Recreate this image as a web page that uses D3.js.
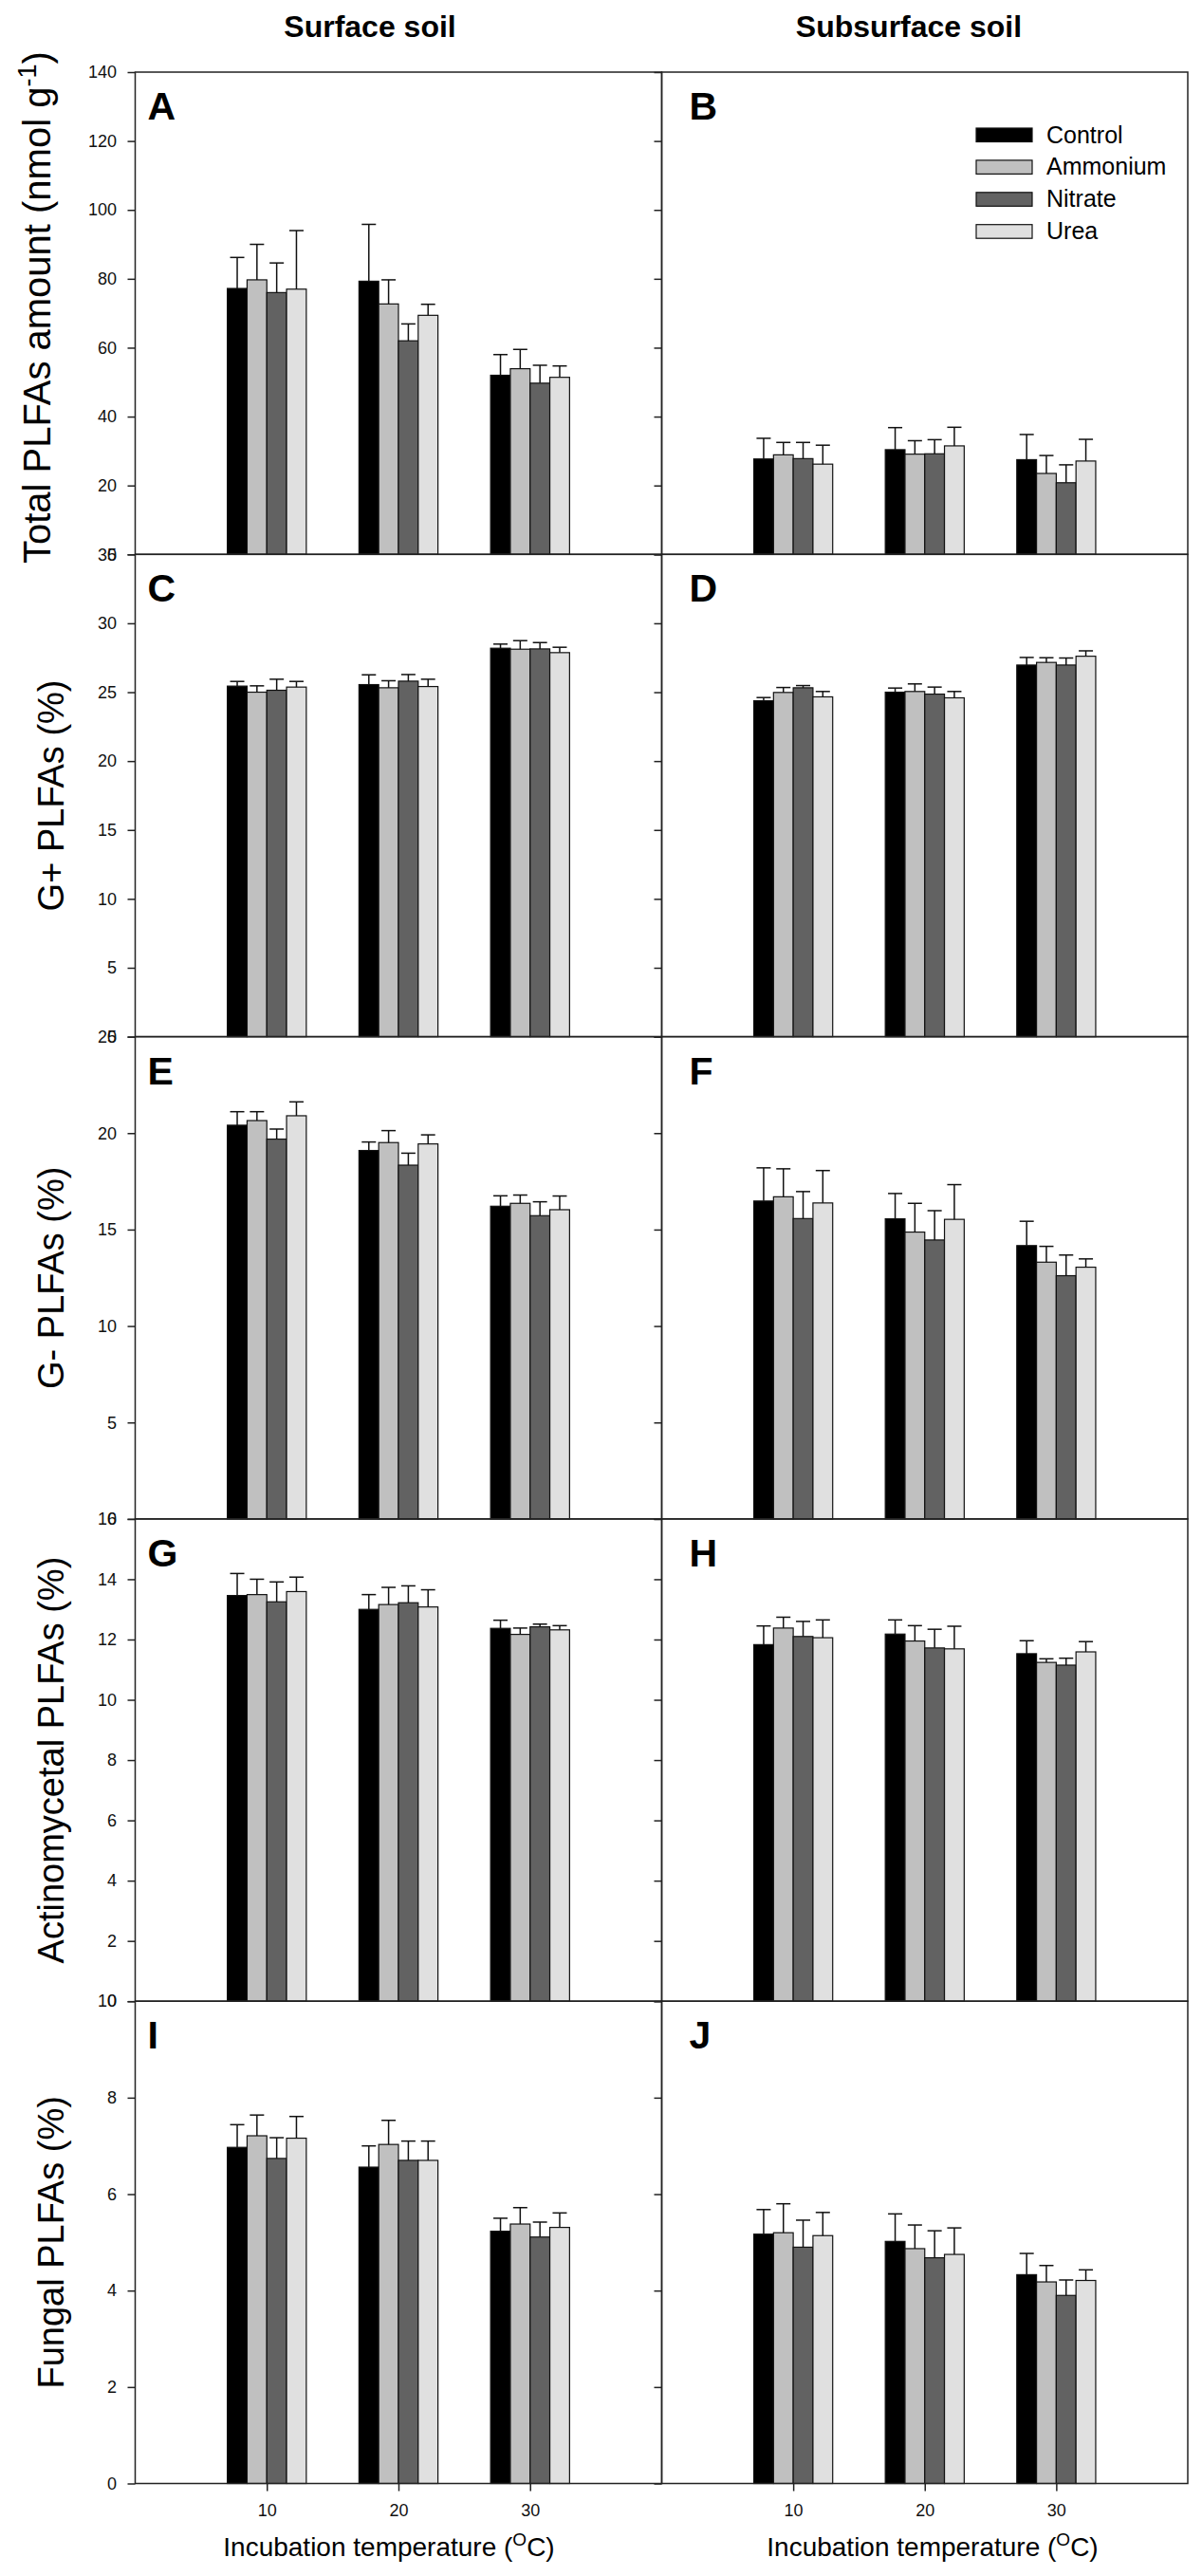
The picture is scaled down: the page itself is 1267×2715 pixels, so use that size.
<!DOCTYPE html>
<html>
<head>
<meta charset="utf-8">
<style>
	body { margin: 0; background: #fff; }
	svg { display: block; font-family: Arial, "Liberation Sans", sans-serif; }
	.frame { fill: none; stroke: #222; stroke-width: 1.5; }
	.bar { stroke: #111; stroke-width: 1.2; }
	.err { stroke: #111; stroke-width: 1.5; fill: none; }
	.axis path { display: none; }
	.axis line { stroke: #222; stroke-width: 1.5; }
	.axis text { font-size: 18px; fill: #111; font-family: Arial, "Liberation Sans", sans-serif; }
</style>
</head>
<body>
<script src="https://d3js.org/d3.v7.min.js"></script>
<script>
	// categories
	var temps = [10, 20, 30];
	var treatments = ["Control", "Ammonium", "Nitrate", "Urea"];
	var fills = ["#000000", "#c0c0c0", "#626262", "#e0e0e0"];

	// values: [temperature][treatment], errors are the upper bar length
	var totalSurf = [[77.2, 79.7, 76.0, 77.0], [79.3, 72.7, 62.0, 69.4], [52.0, 53.9, 49.7, 51.4]];
	var totalSurfErr = [[9.0, 10.3, 8.6, 17.0], [16.5, 7.0, 4.9, 3.2], [6.0, 5.6, 5.2, 3.3]];
	var totalSub = [[27.7, 28.9, 27.8, 26.2], [30.4, 29.1, 29.2, 31.5], [27.5, 23.5, 20.8, 27.1]];
	var totalSubErr = [[6.0, 3.6, 4.7, 5.5], [6.4, 3.9, 4.1, 5.4], [7.3, 5.2, 5.2, 6.3]];

	var gposSurf = [[25.44, 25.0, 25.14, 25.37], [25.55, 25.32, 25.80, 25.41], [28.19, 28.12, 28.14, 27.87]];
	var gposSurfErr = [[0.34, 0.46, 0.8, 0.41], [0.71, 0.51, 0.48, 0.53], [0.30, 0.62, 0.46, 0.39]];
	var gposSub = [[24.38, 24.98, 25.32, 24.66], [25.0, 25.05, 24.86, 24.59], [26.97, 27.16, 26.97, 27.61]];
	var gposSubErr = [[0.23, 0.36, 0.16, 0.39], [0.30, 0.55, 0.51, 0.46], [0.55, 0.34, 0.51, 0.39]];

	var gnegSurf = [[20.41, 20.65, 19.69, 20.90], [19.10, 19.51, 18.34, 19.44], [16.21, 16.36, 15.72, 16.03]];
	var gnegSurfErr = [[0.70, 0.46, 0.52, 0.72], [0.44, 0.62, 0.62, 0.47], [0.54, 0.43, 0.72, 0.71]];
	var gnegSub = [[16.48, 16.70, 15.57, 16.38], [15.56, 14.87, 14.46, 15.53], [14.17, 13.31, 12.61, 13.05]];
	var gnegSubErr = [[1.72, 1.45, 1.40, 1.68], [1.31, 1.49, 1.52, 1.80], [1.26, 0.82, 1.07, 0.43]];

	var actSurf = [[13.46, 13.49, 13.25, 13.59], [13.00, 13.16, 13.22, 13.08], [12.37, 12.17, 12.42, 12.32]];
	var actSurfErr = [[0.73, 0.51, 0.66, 0.48], [0.49, 0.57, 0.56, 0.57], [0.27, 0.21, 0.09, 0.14]];
	var actSub = [[11.83, 12.38, 12.10, 12.06], [12.18, 11.95, 11.72, 11.69], [11.53, 11.24, 11.15, 11.59]];
	var actSubErr = [[0.62, 0.36, 0.50, 0.59], [0.47, 0.51, 0.62, 0.75], [0.43, 0.12, 0.23, 0.34]];

	var fungSurf = [[6.97, 7.21, 6.74, 7.16], [6.56, 7.03, 6.70, 6.70], [5.23, 5.38, 5.11, 5.31]];
	var fungSurfErr = [[0.47, 0.43, 0.43, 0.45], [0.44, 0.50, 0.40, 0.40], [0.27, 0.34, 0.31, 0.30]];
	var fungSub = [[5.17, 5.20, 4.90, 5.14], [5.02, 4.87, 4.68, 4.75], [4.33, 4.18, 3.90, 4.21]];
	var fungSubErr = [[0.51, 0.60, 0.56, 0.48], [0.57, 0.49, 0.56, 0.55], [0.44, 0.34, 0.32, 0.22]];

	// y axis ranges per row
	var yMax = [140, 35, 25, 16, 10];
	var yStep = [20, 5, 5, 2, 2];
	var letters = [["A", "B"], ["C", "D"], ["E", "F"], ["G", "H"], ["I", "J"]];

	var rows = [
		{ vals: [totalSurf, totalSub], errs: [totalSurfErr, totalSubErr] },
		{ vals: [gposSurf, gposSub], errs: [gposSurfErr, gposSubErr] },
		{ vals: [gnegSurf, gnegSub], errs: [gnegSurfErr, gnegSubErr] },
		{ vals: [actSurf, actSub], errs: [actSurfErr, actSubErr] },
		{ vals: [fungSurf, fungSub], errs: [fungSurfErr, fungSubErr] }
	];

	var W = 1267, H = 2715;
	var top0 = 76, rowH = 508.3;
	var colX = [142.5, 697.5, 1252];
	var barW = 1.5; // in x units

	var svg = d3.select("body").append("svg")
		.attr("width", W)
		.attr("height", H);
	svg.append("rect").attr("width", W).attr("height", H).attr("fill", "#fff");

	rows.forEach(function (row, r) {
		for (var c = 0; c < 2; c++) {
			var x = d3.scaleLinear().domain([0, 40]).range([colX[c], colX[c + 1]]);
			var y = d3.scaleLinear().domain([0, yMax[r]]).range([top0 + (r + 1) * rowH, top0 + r * rowH]);
			var g = svg.append("g");

			// flatten
			var flat = [];
			row.vals[c].forEach(function (grp, ti) {
				grp.forEach(function (v, k) {
					flat.push({ t: temps[ti], k: k, v: v, e: row.errs[c][ti][k] });
				});
			});

			g.selectAll("rect.bar").data(flat).enter()
				.append("rect")
				.attr("class", "bar")
				.attr("x", function (d) { return x(d.t - 3 + barW * d.k); })
				.attr("y", function (d) { return y(d.v); })
				.attr("width", function () { return x(barW) - x(0); })
				.attr("height", function (d) { return y(0) - y(d.v); })
				.attr("fill", function (d) { return fills[d.k]; });

			// error bars, upper half only
			var eb = g.selectAll("g.eb").data(flat).enter().append("g").attr("class", "eb");
			eb.append("line")
				.attr("class", "err")
				.attr("x1", function (d) { return x(d.t - 3 + barW * d.k + barW / 2); })
				.attr("x2", function (d) { return x(d.t - 3 + barW * d.k + barW / 2); })
				.attr("y1", function (d) { return y(d.v); })
				.attr("y2", function (d) { return y(d.v + d.e); });
			eb.append("line")
				.attr("class", "err")
				.attr("x1", function (d) { return x(d.t - 3 + barW * d.k + barW / 2) - 7.5; })
				.attr("x2", function (d) { return x(d.t - 3 + barW * d.k + barW / 2) + 7.5; })
				.attr("y1", function (d) { return y(d.v + d.e); })
				.attr("y2", function (d) { return y(d.v + d.e); });

			// y axis
			var ax = d3.axisLeft(y)
				.tickValues(d3.range(0, yMax[r] + yStep[r] / 2, yStep[r]))
				.tickSize(8)
				.tickPadding(11.5);
			if (c == 1) ax.tickFormat("");
			svg.append("g").attr("class", "axis")
				.attr("transform", "translate(" + colX[c] + ",0)")
				.call(ax);

			// bottom row x axis
			if (r == rows.length - 1) {
				svg.append("g").attr("class", "axis")
					.attr("transform", "translate(0," + y(0) + ")")
					.call(d3.axisBottom(x).tickValues(temps).tickSize(8).tickPadding(14));
			}

			// frame
			svg.append("rect").attr("class", "frame")
				.attr("x", colX[c]).attr("y", y(yMax[r]))
				.attr("width", colX[c + 1] - colX[c])
				.attr("height", y(0) - y(yMax[r]));

			// panel letter
			svg.append("text")
				.attr("x", colX[c] + (c == 0 ? 13 : 29))
				.attr("y", top0 + r * rowH + 50)
				.attr("font-size", 41)
				.attr("font-weight", "bold")
				.text(letters[r][c]);
		}
	});

	// column titles
	svg.append("text").attr("x", 390).attr("y", 39).attr("text-anchor", "middle")
		.attr("font-size", 32).attr("font-weight", "bold").text("Surface soil");
	svg.append("text").attr("x", 958).attr("y", 39).attr("text-anchor", "middle")
		.attr("font-size", 32).attr("font-weight", "bold").text("Subsurface soil");

	// y titles
	var yt = svg.append("text")
		.attr("transform", "translate(53," + (top0 + rowH / 2 - 6) + ") rotate(-90)")
		.attr("text-anchor", "middle")
		.attr("font-size", 40);
	yt.append("tspan").text("Total PLFAs amount (nmol g");
	yt.append("tspan").attr("font-size", 27).attr("dy", -15).text("-1");
	yt.append("tspan").attr("dy", 15).text(")");

	var yTitles = ["G+ PLFAs (%)", "G- PLFAs (%)", "Actinomycetal PLFAs (%)", "Fungal PLFAs (%)"];
	yTitles.forEach(function (t, i) {
		svg.append("text")
			.attr("transform", "translate(67," + (top0 + (i + 1.5) * rowH) + ") rotate(-90)")
			.attr("text-anchor", "middle")
			.attr("font-size", 38)
			.text(t);
	});

	// x titles
	[410, 983].forEach(function (cx) {
		var t = svg.append("text").attr("x", cx).attr("y", 2694)
			.attr("text-anchor", "middle").attr("font-size", 28);
		t.append("tspan").text("Incubation temperature (");
		t.append("tspan").attr("font-size", 19).attr("dy", -11).text("O");
		t.append("tspan").attr("dy", 11).text("C)");
	});

	// legend in panel B
	var leg = svg.append("g").selectAll("g").data(treatments).enter().append("g")
		.attr("transform", function (d, i) { return "translate(1029," + (135 + i * 33.9) + ")"; });
	leg.append("rect")
		.attr("width", 59).attr("height", 14.5)
		.attr("fill", function (d, i) { return fills[i]; })
		.attr("stroke", "#111").attr("stroke-width", 1.2);
	leg.append("text")
		.attr("x", 74).attr("y", 15.5)
		.attr("font-size", 25)
		.text(function (d) { return d; });
</script>
</body>
</html>
